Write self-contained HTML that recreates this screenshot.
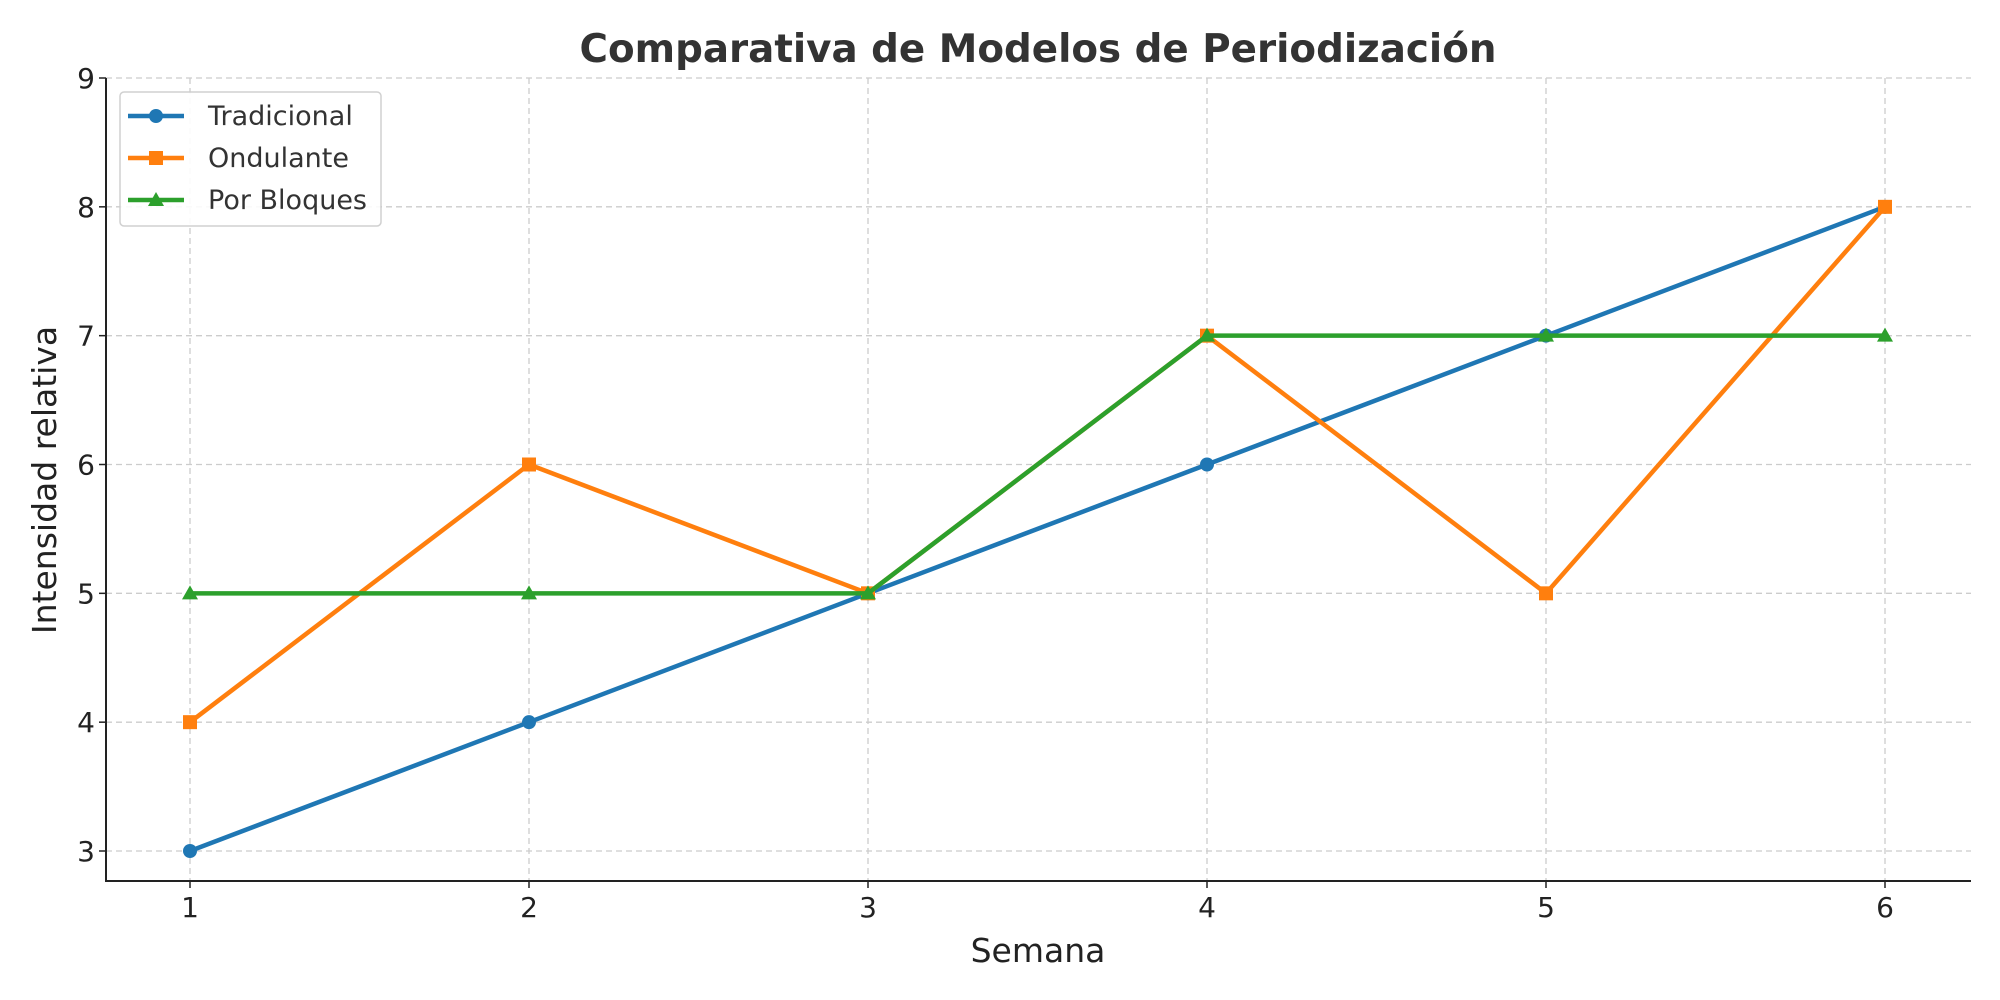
<!DOCTYPE html>
<html><head><meta charset="utf-8"><style>
html,body{margin:0;padding:0;background:#fff;}
svg{display:block;font-family:"DejaVu Sans","Liberation Sans",sans-serif;}
</style></head><body>
<svg id="chart" width="2000" height="1000" viewBox="0 0 2000 1000">
<text x="1038" y="62" text-anchor="middle" font-size="38.8" font-weight="bold" fill="#333">Comparativa de Modelos de Periodización</text>
<g id="grid"></g><g id="axes"></g><g id="series"></g>
<text x="1038" y="962" text-anchor="middle" font-size="33" fill="#222">Semana</text>
<text transform="translate(56,480) rotate(-90)" text-anchor="middle" font-size="33" fill="#222">Intensidad relativa</text>
<g id="legend"></g>
</svg>
<script>
const weeks=[1,2,3,4,5,6];
const yTicks=[3,4,5,6,7,8,9];
const seriesNames=["Tradicional","Ondulante","Por Bloques"];
const tradicional=[3,4,5,6,7,8];
const ondulante=[4,6,5,7,5,8];
const bloques=[5,5,5,7,7,7];
const colors=["#1f77b4","#ff7f0e","#2ca02c"];
const markers=["circle","square","triangle"];
const NS="http://www.w3.org/2000/svg";
const X=v=>190+(v-1)*(1885-190)/5;
const Y=v=>851-(v-3)*(851-78)/6;
function mk(t,a,p){const e=document.createElementNS(NS,t);for(const k in a)e.setAttribute(k,a[k]);p.appendChild(e);return e;}
const grid=document.getElementById('grid'),axes=document.getElementById('axes'),ser=document.getElementById('series'),leg=document.getElementById('legend');
weeks.forEach(w=>{const l=mk('line',{x1:X(w),x2:X(w),y1:78,y2:881,stroke:'#ccc','stroke-width':1.3,'stroke-dasharray':'6,4'},grid);

const t=mk('text',{x:X(w),y:917,'text-anchor':'middle','font-size':28,fill:'#222'},axes);t.textContent=w;

mk('line',{x1:X(w),x2:X(w),y1:881,y2:888,stroke:'#222','stroke-width':1.5},axes);});
yTicks.forEach(v=>{const l=mk('line',{x1:106,x2:1971,y1:Y(v),y2:Y(v),stroke:'#ccc','stroke-width':1.3,'stroke-dasharray':'6,4'},grid);

const t=mk('text',{x:95,y:Y(v)+10,'text-anchor':'end','font-size':28,fill:'#222'},axes);t.textContent=v;

mk('line',{x1:99,x2:106,y1:Y(v),y2:Y(v),stroke:'#222','stroke-width':1.5},axes);});
mk('line',{x1:106,x2:106,y1:78,y2:882,stroke:'#222','stroke-width':2},axes);
mk('line',{x1:105,x2:1971,y1:881,y2:881,stroke:'#222','stroke-width':2},axes);
function marker(type,x,y,c,p){let e;
if(type==='circle')e=mk('circle',{cx:x,cy:y,r:7,fill:c},p);
else if(type==='square')e=mk('rect',{x:x-7,y:y-7,width:14,height:14,fill:c},p);
else e=mk('polygon',{points:`${x},${y-8} ${x+8},${y+6} ${x-8},${y+6}`,fill:c},p);
}
[tradicional,ondulante,bloques].forEach((d,i)=>{
const pl=mk('polyline',{points:d.map((v,j)=>X(weeks[j])+','+Y(v)).join(' '),fill:'none',stroke:colors[i],'stroke-width':4.5,'stroke-linejoin':'round'},ser);

d.forEach((v,j)=>marker(markers[i],X(weeks[j]),Y(v),colors[i],ser));});
const box=mk('rect',{x:120,y:92,width:261,height:134,rx:4,fill:'#fff',stroke:'#ccc','stroke-width':1.5,opacity:0.9},leg);

seriesNames.forEach((n,i)=>{const y=116+i*42;
const l=mk('line',{x1:128,x2:184,y1:y,y2:y,stroke:colors[i],'stroke-width':4.5},leg);

marker(markers[i],156,y,colors[i],leg);
const t=mk('text',{x:208,y:y+9,'font-size':27,fill:'#333'},leg);t.textContent=n;
});
</script>
</body></html>
